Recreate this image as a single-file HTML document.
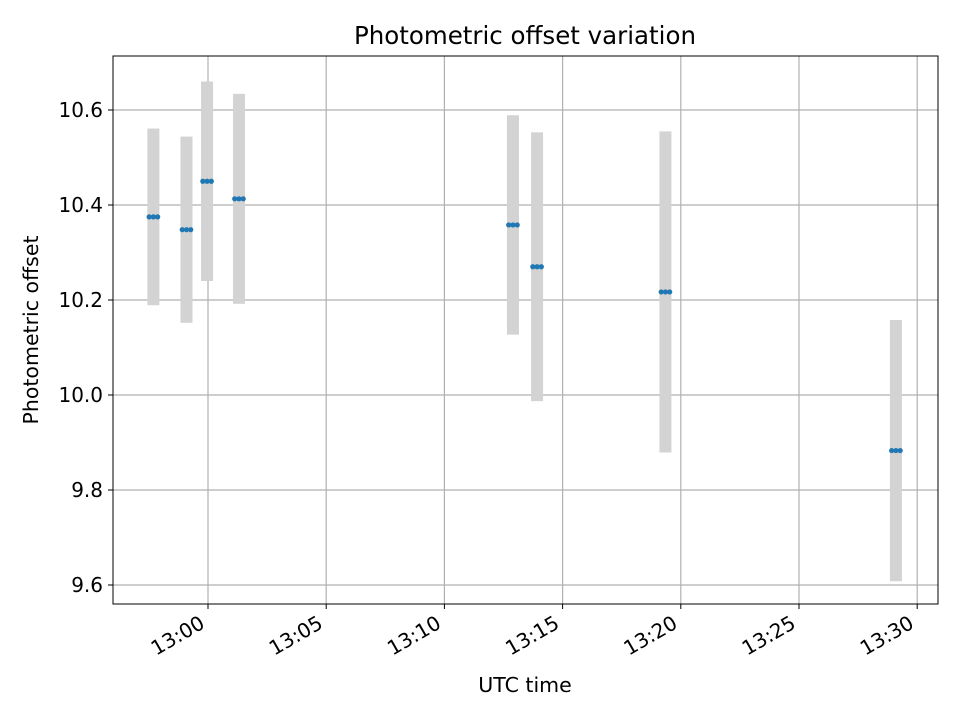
<!DOCTYPE html>
<html><head><meta charset="utf-8"><style>body{margin:0;background:#fff}svg{display:block;font-family:"DejaVu Sans","Liberation Sans",sans-serif}</style></head>
<body>
<svg id="chart" width="960" height="720" viewBox="0 0 960 720">
<rect width="960" height="720" fill="#fff"/>
<text x="525" y="44" text-anchor="middle" font-size="24.5" fill="#000">Photometric offset variation</text>
<g id="grid"></g>
<g id="bars"></g>
<g id="pts"></g>
<rect x="113" y="56" width="825" height="548" fill="none" stroke="#000" stroke-width="1"/>
<g id="ticks"></g>
<text x="525" y="692" text-anchor="middle" font-size="20.5">UTC time</text>
<text transform="translate(38,330) rotate(-90)" text-anchor="middle" font-size="20.5">Photometric offset</text>
</svg>
<script>
// minutes after 13:00 (group centres)
const times = [-2.31, -0.91, -0.04, 1.31, 12.90, 13.92, 19.35, 29.10];
const values = [10.375, 10.348, 10.45, 10.413, 10.358, 10.27, 10.217, 9.883];
const errors = [0.186, 0.196, 0.21, 0.221, 0.231, 0.283, 0.338, 0.275];
const yTicks = [9.6, 9.8, 10.0, 10.2, 10.4, 10.6];
const yTickLabels = ["9.6", "9.8", "10.0", "10.2", "10.4", "10.6"];
const xTicks = [0, 5, 10, 15, 20, 25, 30];
const xTickLabels = ["13:00", "13:05", "13:10", "13:15", "13:20", "13:25", "13:30"];

const NS = "http://www.w3.org/2000/svg";
const X = m => 208 + m * 23.64;
const Y = v => 395 - (v - 10) * 475;
function mk(tag, attrs, parent) {
  const e = document.createElementNS(NS, tag);
  for (const k in attrs) e.setAttribute(k, attrs[k]);
  document.getElementById(parent).appendChild(e);
  return e;
}
yTicks.forEach((v, i) => {
  const g = mk("line", {x1: 113, x2: 938, y1: Y(v), y2: Y(v), stroke: "#b0b0b0", "stroke-width": 1.2}, "grid");
  
  
  const t = mk("line", {x1: 108, x2: 113, y1: Y(v), y2: Y(v), stroke: "#000"}, "ticks");
  
  
  const l = mk("text", {x: 103, y: Y(v) + 7, "text-anchor": "end", "font-size": 20}, "ticks");
  l.textContent = yTickLabels[i];
  
  
});
xTicks.forEach((m, i) => {
  const g = mk("line", {x1: X(m), x2: X(m), y1: 56, y2: 604, stroke: "#b0b0b0", "stroke-width": 1.2}, "grid");
  
  
  const t = mk("line", {x1: X(m), x2: X(m), y1: 604, y2: 609, stroke: "#000"}, "ticks");
  
  
  const l = mk("text", {"text-anchor": "end", "font-size": 20, transform: `translate(${X(m) - 2},627) rotate(-30)`}, "ticks");
  l.textContent = xTickLabels[i];
  
  
});
times.forEach((m, i) => {
  const b = mk("rect", {x: X(m) - 6, y: Y(values[i] + errors[i]), width: 12, height: Y(values[i] - errors[i]) - Y(values[i] + errors[i]), fill: "#d3d3d3"}, "bars");
  
  
  [-0.18, 0, 0.18].forEach(d => {
    const c = mk("circle", {cx: X(m + d), cy: Y(values[i]), r: 2.6, fill: "#1f77b4"}, "pts");
    
    
  });
});
</script>
</body></html>
